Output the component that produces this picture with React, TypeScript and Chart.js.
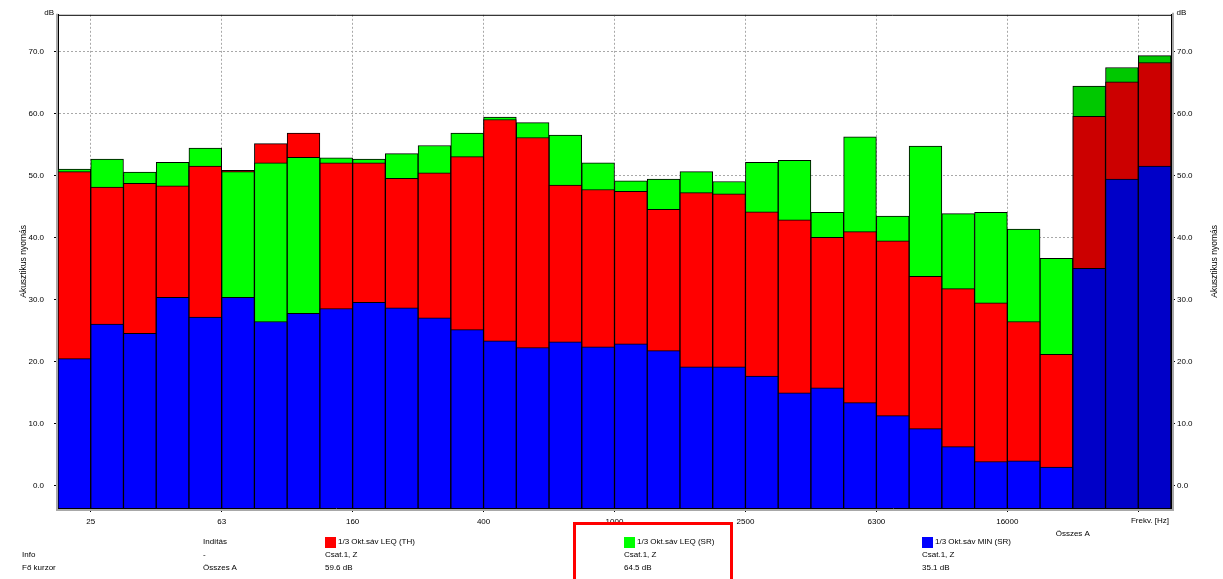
import React, { useEffect, useRef } from 'react';
import { Chart, registerables } from 'chart.js';

Chart.register(...registerables);

// 1/3 octave bands (Hz) plus overall values
const bands = [
  '20', '25', '31.5', '40', '50', '63', '80', '100', '125', '160', '200', '250',
  '315', '400', '500', '630', '800', '1000', '1250', '1600', '2000', '2500', '3150',
  '4000', '5000', '6300', '8000', '10000', '12500', '16000', '20000',
  'Összes A', 'Összes C', 'Összes Z',
];

// 1/3 Okt.sáv LEQ (TH) – red
const leqTH = [
  50.7, 48.2, 48.8, 48.4, 51.6, 50.9, 55.2, 56.9, 52.1, 52.1, 49.6, 50.5,
  53.1, 59.1, 56.2, 48.5, 47.8, 47.5, 44.6, 47.3, 47.1, 44.2, 42.9,
  40.1, 41.0, 39.5, 33.8, 31.8, 29.5, 26.5, 21.2,
  59.6, 65.2, 68.3,
];

// 1/3 Okt.sáv LEQ (SR) – green
const leqSR = [
  51.1, 52.7, 50.6, 52.2, 54.5, 50.7, 52.1, 53.0, 52.9, 52.7, 53.6, 54.9,
  56.9, 59.5, 58.6, 56.6, 52.1, 49.2, 49.5, 50.7, 49.1, 52.2, 52.5,
  44.1, 56.3, 43.5, 54.8, 43.9, 44.1, 41.4, 36.7,
  64.5, 67.5, 69.4,
];

// 1/3 Okt.sáv MIN (SR) – blue
const minSR = [
  20.5, 26.1, 24.6, 30.4, 27.2, 30.4, 26.5, 27.8, 28.6, 29.6, 28.7, 27.1,
  25.2, 23.4, 22.3, 23.2, 22.4, 22.9, 21.8, 19.2, 19.2, 17.7, 15.0,
  15.8, 13.4, 11.3, 9.2, 6.3, 3.9, 4.0, 3.0,
  35.1, 49.5, 51.6,
];

const seriesNames = ['1/3 Okt.sáv LEQ (TH)', '1/3 Okt.sáv LEQ (SR)', '1/3 Okt.sáv MIN (SR)'];
const seriesColors = ['#ff0000', '#00ff00', '#0000ff'];
const totalColors = ['#cc0000', '#00c800', '#0000c8'];
const seriesInfo = ['Csat.1, Z', 'Csat.1, Z', 'Csat.1, Z'];

const xTickBands = ['25', '63', '160', '400', '1000', '2500', '6300', '16000', 'Összes Z'];
const yTickValues = [0, 10, 20, 30, 40, 50, 60, 70];
const yMin = -3.6;
const yMax = 76;

const cursorBand = 'Összes A';
const yTitle = 'Akusztikus nyomás';
const yUnit = 'dB';
const xUnit = 'Frekv. [Hz]';

const FONT = "'Liberation Sans', Arial, sans-serif";

const series = [leqTH, leqSR, minSR];
const isTotal = (i: number) => !!bands[i] && bands[i].startsWith('Összes');

function buildLayers() {
  // rank 0 = tallest value of the band (drawn underneath), rank 2 = smallest (on top)
  return [0, 1, 2].map((rank) => {
    const data: { x: number; y: number }[] = [];
    const colors: string[] = [];
    for (let i = 0; i < bands.length; i++) {
      const sorted = [0, 1, 2].sort((a, b) => series[b][i] - series[a][i]);
      const s = sorted[rank];
      data.push({ x: i + 0.5, y: series[s][i] });
      colors.push((isTotal(i) ? totalColors : seriesColors)[s]);
    }
    return { data, colors };
  });
}

const decorPlugin = {
  id: 'decor',
  afterDraw(chart: any) {
    const { ctx, chartArea: a, scales } = chart;
    ctx.save();
    // top border
    ctx.strokeStyle = '#000';
    ctx.lineWidth = 1;
    ctx.beginPath();
    ctx.moveTo(a.left, a.top + 0.5);
    ctx.lineTo(a.right, a.top + 0.5);
    ctx.stroke();
    // grey outer lines
    ctx.strokeStyle = '#a8a8a8';
    ctx.lineWidth = 2;
    ctx.beginPath();
    ctx.moveTo(a.left - 1, a.top - 1);
    ctx.lineTo(a.left - 1, a.bottom + 3);
    ctx.moveTo(a.left - 2, a.bottom + 2);
    ctx.lineTo(a.right + 3, a.bottom + 2);
    ctx.moveTo(a.right + 2, a.top - 2);
    ctx.lineTo(a.right + 2, a.bottom + 3);
    ctx.stroke();

    ctx.fillStyle = '#000';
    ctx.font = `8px ${FONT}`;
    ctx.textBaseline = 'middle';
    // units
    ctx.textAlign = 'right';
    ctx.fillText(yUnit, a.left - 4, a.top - 2);
    ctx.textAlign = 'left';
    ctx.fillText(yUnit, a.right + 5.5, a.top - 2);
    // x unit
    ctx.textAlign = 'right';
    ctx.fillText(xUnit, a.right - 2, a.bottom + 13);
    // cursor band label
    ctx.textAlign = 'center';
    ctx.fillText(cursorBand, scales.x.getPixelForValue(bands.indexOf(cursorBand)), a.bottom + 26);
    // rotated axis titles
    const cy = (a.top + a.bottom) / 2;
    ctx.font = `8.5px ${FONT}`;
    [a.left - 34, a.right + 44].forEach((cx) => {
      ctx.save();
      ctx.translate(cx, cy);
      ctx.rotate(-Math.PI / 2);
      ctx.textAlign = 'center';
      ctx.fillText(yTitle, 0, 0);
      ctx.restore();
    });
    ctx.restore();
  },
};

function ChartCanvas() {
  const ref = useRef<HTMLCanvasElement>(null);
  useEffect(() => {
    if (!ref.current) return;
    const layers = buildLayers();
    const datasets = layers
      .map((l, rank) => ({
        label: `layer${rank}`,
        data: l.data,
        backgroundColor: l.colors,
        borderColor: '#000',
        borderWidth: 1,
        borderSkipped: 'start',
        grouped: false,
        barPercentage: 1,
        categoryPercentage: 1,
        base: yMin,
        order: 3 - rank,
      }))
      .reverse();

    const xTicks = xTickBands.map((b) => bands.indexOf(b));
    const yScaleCommon = {
      type: 'linear',
      min: yMin,
      max: yMax,
      afterBuildTicks: (s: any) => {
        s.ticks = yTickValues.map((v) => ({ value: v }));
      },
    };

    const chart = new Chart(ref.current, {
      type: 'bar',
      data: { datasets: datasets as any },
      plugins: [decorPlugin],
      options: {
        animation: false,
        responsive: false,
        devicePixelRatio: 1,
        layout: { padding: { top: 12, left: 0, right: 0, bottom: 0 } },
        plugins: { legend: { display: false }, tooltip: { enabled: false } },
        scales: {
          x: {
            type: 'linear',
            offset: false,
            min: 0,
            max: bands.length,
            afterBuildTicks: (s: any) => {
              s.ticks = xTicks.map((v) => ({ value: v }));
            },
            afterFit: (s: any) => {
              s.height = 71;
            },
            ticks: {
              autoSkip: false,
              maxRotation: 0,
              padding: 5,
              color: '#000',
              font: { family: FONT, size: 8 },
              callback: (v: any) => {
                const lab = bands[v as number];
                return lab && !isTotal(v as number) ? lab : '';
              },
            },
            grid: {
              offset: false,
              color: '#a8a8a8',
              lineWidth: 1,
              tickLength: 4,
              tickColor: '#000',
              tickWidth: 1,
              tickBorderDash: [],
            },
            border: { display: true, color: '#000', width: 1, dash: [2, 2] },
          },
          y: {
            ...yScaleCommon,
            position: 'left',
            afterFit: (s: any) => {
              s.width = 58;
            },
            ticks: {
              padding: 10,
              color: '#000',
              font: { family: FONT, size: 8 },
              callback: (v: any) => Number(v).toFixed(1),
            },
            grid: {
              color: '#a8a8a8',
              lineWidth: 1,
              tickLength: 4,
              tickColor: '#000',
              tickBorderDash: [],
            },
            border: { display: true, color: '#000', width: 1, dash: [2, 2] },
          },
          y2: {
            ...yScaleCommon,
            position: 'right',
            afterFit: (s: any) => {
              s.width = 52;
            },
            ticks: {
              padding: 2,
              color: '#000',
              font: { family: FONT, size: 8 },
              callback: (v: any) => Number(v).toFixed(1),
            },
            grid: {
              drawOnChartArea: false,
              tickLength: 4,
              tickColor: '#000',
              tickBorderDash: [],
            },
            border: { display: true, color: '#000', width: 1 },
          },
        } as any,
      },
    });
    return () => chart.destroy();
  }, []);
  return (
    <canvas
      ref={ref}
      width={1223}
      height={579}
      style={{ position: 'absolute', left: 0, top: 0, width: 1223, height: 579 }}
    />
  );
}

const txt = (left: number, centerY: number, text: string) => (
  <div
    style={{
      position: 'absolute',
      left,
      top: centerY - 5,
      lineHeight: '10px',
      whiteSpace: 'nowrap',
    }}
  >
    {text}
  </div>
);

export default function App() {
  const ci = bands.indexOf(cursorBand);
  const cols = [325, 624, 922];
  return (
    <div
      style={{
        position: 'absolute',
        left: 0,
        top: 0,
        width: 1223,
        height: 579,
        overflow: 'hidden',
        background: '#fff',
        fontFamily: FONT,
        fontSize: 8,
        color: '#000',
      }}
    >
      <ChartCanvas />
      {txt(22, 555, 'Info')}
      {txt(22, 568, 'Fő kurzor')}
      {txt(203, 542, 'Indítás')}
      {txt(203, 555, '-')}
      {txt(203, 568, cursorBand)}
      {seriesNames.map((name, k) => (
        <React.Fragment key={name}>
          <div
            style={{
              position: 'absolute',
              left: cols[k],
              top: 537,
              width: 11,
              height: 11,
              background: seriesColors[k],
            }}
          />
          {txt(cols[k] + 13, 542, name)}
          {txt(cols[k], 555, seriesInfo[k])}
          {txt(cols[k], 568, `${series[k][ci].toFixed(1)} dB`)}
        </React.Fragment>
      ))}
      <div
        style={{
          position: 'absolute',
          left: 573,
          top: 522,
          width: 154,
          height: 80,
          border: '3px solid #ff0000',
          borderBottom: 'none',
        }}
      />
    </div>
  );
}
